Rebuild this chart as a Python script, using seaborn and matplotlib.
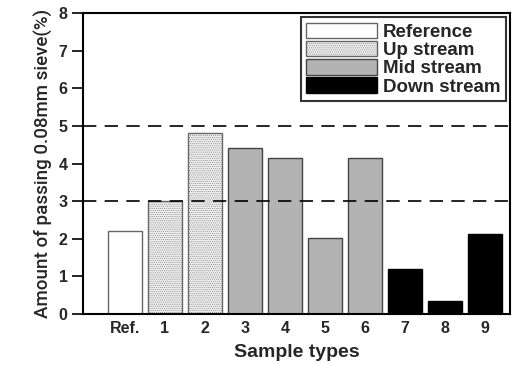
import matplotlib
matplotlib.use("Agg")
import matplotlib.pyplot as plt
import seaborn as sns
import pandas as pd
from matplotlib.patches import Patch

categories = ["Ref.", "1", "2", "3", "4", "5", "6", "7", "8", "9"]
values = [2.2, 3.0, 4.8, 4.4, 4.15, 2.02, 4.15, 1.2, 0.35, 2.12]
groups = ["Reference", "Up stream", "Up stream", "Mid stream", "Mid stream",
          "Mid stream", "Mid stream", "Down stream", "Down stream", "Down stream"]
group_names = ["Reference", "Up stream", "Mid stream", "Down stream"]
ref_lines = [3, 5]

face = {"Reference": "white", "Up stream": "#eeeeee", "Mid stream": "#b3b3b3", "Down stream": "black"}
edge = {"Reference": "#666666", "Up stream": "#666666", "Mid stream": "#444444", "Down stream": "black"}
hatch = {"Reference": None, "Up stream": "........", "Mid stream": None, "Down stream": None}

df = pd.DataFrame({"cat": categories, "val": values, "grp": groups})

sns.set_theme(style="white")
plt.rcParams["font.family"] = ["Liberation Sans", "DejaVu Sans"]
plt.rcParams["hatch.color"] = "#d2d2d2"
plt.rcParams["hatch.linewidth"] = 0.3

fig = plt.figure(figsize=(5.12, 3.65), dpi=100)
ax = fig.add_axes([0.162, 0.14, 0.834, 0.824])

sns.barplot(data=df, x="cat", y="val", hue="grp", hue_order=group_names,
            palette=face, dodge=False, width=0.85, ax=ax, legend=False,
            saturation=1)

bars = [p for p in ax.patches if p.get_height() > 0]
bars_sorted = sorted(bars, key=lambda p: p.get_x())
for p, g in zip(bars_sorted, groups):
    p.set_facecolor(face[g])
    p.set_edgecolor(edge[g])
    p.set_linewidth(1.0)
    if hatch[g]:
        p.set_hatch(hatch[g])

for y in ref_lines:
    ax.axhline(y, color="black", lw=1.2, ls=(0, (8, 5)), zorder=5)

ax.set_xlim(-1.05, 9.62)
ax.set_ylim(0, 8)
ax.set_yticks(range(0, 9))
ax.tick_params(axis="both", labelsize=11.5)
for lab in ax.get_xticklabels() + ax.get_yticklabels():
    lab.set_fontweight("bold")
ax.tick_params(axis="y", direction="out", length=8, width=1.2, left=True, color="black", pad=3)
ax.tick_params(axis="x", length=0, pad=5)

for s in ax.spines.values():
    s.set_linewidth(1.5)
    s.set_color("black")

ax.set_xlabel("Sample types", fontsize=14, fontweight="bold", labelpad=6)
ax.set_ylabel("Amount of passing 0.08mm sieve(%)", fontsize=13.5,
              family=["Roboto", "Liberation Sans", "DejaVu Sans"], fontweight="medium",
              labelpad=4)

handles = [Patch(facecolor=face[g], edgecolor=edge[g] if g != "Down stream" else "black",
                 hatch=hatch[g], label=g) for g in group_names]
leg = ax.legend(handles=handles, loc="upper right", bbox_to_anchor=(1.0, 1.0),
                frameon=True, fancybox=False, edgecolor="black",
                prop={"weight": "bold", "size": 13.5}, handlelength=3.8, handleheight=0.9,
                handletextpad=0.3, labelspacing=0.0, borderpad=0.3, borderaxespad=0.2)
leg.get_frame().set_linewidth(1.5)
leg.set_zorder(10)

fig.savefig("out.png", dpi=100)
